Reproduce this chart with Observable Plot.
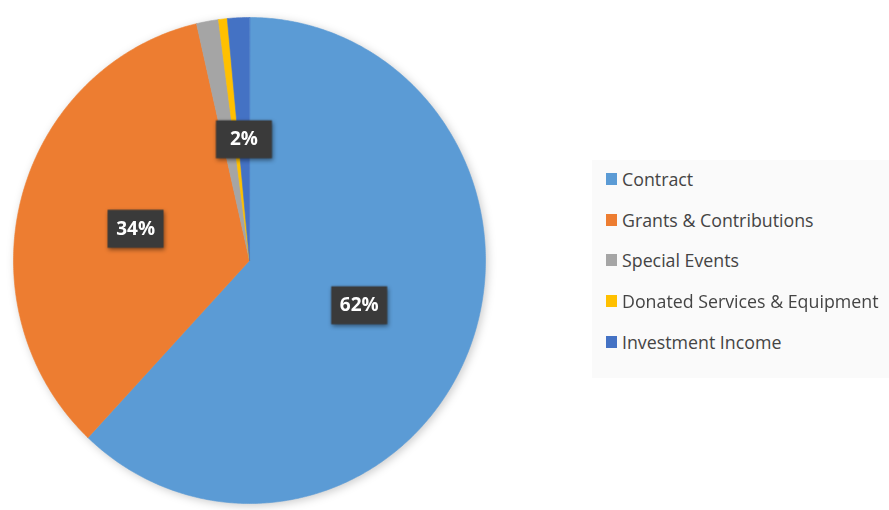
<!DOCTYPE html>
<html>
<head>
<meta charset="utf-8">
<script src="https://cdn.jsdelivr.net/npm/d3@7"></script>
<script src="https://cdn.jsdelivr.net/npm/@observablehq/plot@0.6"></script>
<style>
  html, body { margin: 0; padding: 0; background: #ffffff; }
  #wrap { position: relative; width: 889px; height: 510px; overflow: hidden; background: #fff; }
  #chart { position: absolute; left: 0; top: 0; }
  #chart g[aria-label="line"] { filter: drop-shadow(2px 2px 4px rgba(0,0,0,0.2)); }
  #chart g[aria-label="dot"] { filter: drop-shadow(1px 2px 2px rgba(0,0,0,0.45)); }
  #legend {
    position: absolute; left: 592px; top: 160px; width: 297px; height: 218px;
    background: #fafafa; font-family: "Open Sans", sans-serif; font-size: 17.8px; color: #444444;
  }
  .item { position: absolute; left: 14px; display: flex; align-items: center; white-space: nowrap; }
  .sw { width: 11px; height: 12px; margin-right: 5px; }
</style>
</head>
<body>
<div id="wrap">
  <div id="chart"></div>
  <div id="legend"></div>
</div>
<script>
const categories = ["Contract", "Grants & Contributions", "Special Events", "Donated Services & Equipment", "Investment Income"];
const values = [62.0, 34.4, 1.5, 0.6, 1.5];
const colors = ["#5B9BD5", "#ED7D31", "#A5A5A5", "#FFC000", "#4472C4"];
const labels = ["62%", "34%", "", "", "2%"];

const data = categories.map((name, i) => ({name, value: values[i], label: labels[i]}));
const arcs = d3.pie().sort(null).value(d => d.value).startAngle(0).endAngle(2 * Math.PI)(data);

// Outline points of every slice, in unit-circle data coordinates
const points = [];
const step = Math.PI / 360;
for (const a of arcs) {
  const name = a.data.name;
  points.push({name, x: 0, y: 0});
  const n = Math.max(2, Math.ceil((a.endAngle - a.startAngle) / step));
  for (let k = 0; k <= n; k++) {
    const t = a.startAngle + (a.endAngle - a.startAngle) * k / n;
    points.push({name, x: Math.sin(t), y: Math.cos(t)});
  }
}

const labelRadius = 0.5;
const labelData = arcs.filter(a => a.data.label).map(a => {
  const t = (a.startAngle + a.endAngle) / 2;
  return {label: a.data.label, x: labelRadius * Math.sin(t), y: labelRadius * Math.cos(t)};
});

const boxSymbol = {draw(context) { context.rect(-28, -19, 56, 38); }};

const plot = Plot.plot({
  width: 889,
  height: 510,
  marginLeft: 13,
  marginRight: 404,
  marginTop: 17,
  marginBottom: 7,
  x: {domain: [-1, 1], axis: null},
  y: {domain: [-1, 1], axis: null},
  color: {domain: categories, range: colors},
  style: {background: "transparent", overflow: "visible"},
  marks: [
    Plot.line(points, {x: "x", y: "y", z: "name", fill: "name", stroke: "name", strokeWidth: 0.6, curve: "linear-closed"}),
    Plot.dot(labelData, {x: "x", y: "y", symbol: boxSymbol, fill: "#3a3a3a", stroke: "none"}),
    Plot.text(labelData, {x: "x", y: "y", text: "label", fill: "white", fontSize: 19, fontWeight: "bold", fontFamily: "Open Sans, sans-serif"})
  ]
});
document.getElementById("chart").appendChild(plot);

const color = plot.scale("color");
const legend = document.getElementById("legend");
const rowTops = [19, 60, 100, 141, 182];
categories.forEach((c, i) => {
  const item = document.createElement("div");
  item.className = "item";
  item.style.top = (rowTops[i] - 12) + "px";
  const sw = document.createElement("span");
  sw.className = "sw";
  sw.style.background = color.apply(c);
  const tx = document.createElement("span");
  tx.textContent = c;
  item.appendChild(sw);
  item.appendChild(tx);
  legend.appendChild(item);
});
</script>
</body>
</html>
